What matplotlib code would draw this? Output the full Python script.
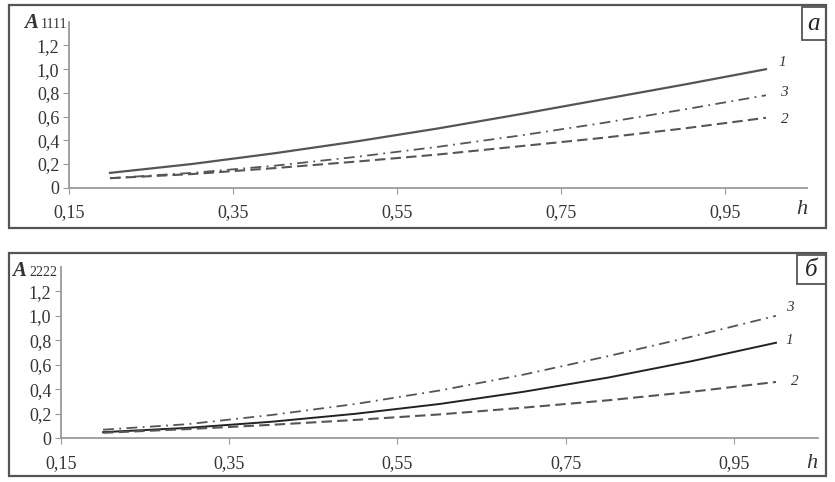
import matplotlib
matplotlib.use("Agg")
import matplotlib.pyplot as plt
from matplotlib.patches import Rectangle

# values
h = [0.2, 0.3, 0.4, 0.5, 0.6, 0.7, 0.8, 0.9, 1.0]

a_curve1 = [0.125, 0.20, 0.29, 0.39, 0.50, 0.62, 0.745, 0.87, 1.00]
a_curve2 = [0.08, 0.115, 0.165, 0.22, 0.28, 0.35, 0.42, 0.50, 0.59]
a_curve3 = [0.08, 0.125, 0.185, 0.26, 0.345, 0.44, 0.545, 0.66, 0.78]

b_curve1 = [0.05, 0.085, 0.135, 0.20, 0.28, 0.38, 0.495, 0.63, 0.78]
b_curve2 = [0.045, 0.075, 0.11, 0.15, 0.195, 0.25, 0.31, 0.38, 0.46]
b_curve3 = [0.07, 0.115, 0.19, 0.28, 0.39, 0.52, 0.67, 0.83, 1.00]

x_ticks = [0.15, 0.35, 0.55, 0.75, 0.95]
x_labels = ["0,15", "0,35", "0,55", "0,75", "0,95"]
y_ticks = [0, 0.2, 0.4, 0.6, 0.8, 1.0, 1.2]
y_labels = ["0", "0,2", "0,4", "0,6", "0,8", "1,0", "1,2"]

serif = "Liberation Serif"
W, H = 835, 482

fig = plt.figure(figsize=(8.35, 4.82), dpi=100)


def fx(px):
    return px / W


def fy(py):
    return 1 - py / H


def setup(ax):
    ax.set_xlim(0.15, 1.05)
    ax.set_ylim(0, 1.4)
    ax.set_xticks(x_ticks)
    ax.set_xticklabels(x_labels, fontfamily=serif, fontsize=13)
    ax.set_yticks(y_ticks)
    ax.set_yticklabels(y_labels, fontfamily=serif, fontsize=13)
    for s in ["top", "right"]:
        ax.spines[s].set_visible(False)
    for s in ["left", "bottom"]:
        ax.spines[s].set_color("#9a9a9a")
        ax.spines[s].set_linewidth(1.3)
    ax.tick_params(direction="out", length=4, color="#9a9a9a", labelcolor="#333333")
    ax.tick_params(axis="x", pad=8)
    ax.tick_params(axis="y", pad=3)
    ax.patch.set_alpha(0)


def frame(x0, y0, x1, y1, lw=1.6):
    fig.patches.append(Rectangle((fx(x0), fy(y1)), fx(x1) - fx(x0), fy(y0) - fy(y1),
                                 transform=fig.transFigure, fill=False,
                                 edgecolor="#555555", linewidth=lw))


# panel a
frame(9, 5, 826, 228)
ax1 = fig.add_axes([fx(69), fy(187.7), fx(807) - fx(69), fy(21.8) - fy(187.7)])
setup(ax1)
ax1.plot(h, a_curve1, color="#555555", lw=1.6, ls="-")
ax1.plot(h, a_curve2, color="#555555", lw=1.5, ls=(0, (5, 2.5)))
ax1.plot(h, a_curve3, color="#555555", lw=1.3, ls=(0, (6, 3, 1, 3)))
for lab, ys, dx, dy in [("1", a_curve1, 9, 4.5), ("3", a_curve3, 10, 2), ("2", a_curve2, 11, -1)]:
    ax1.annotate(lab, xy=(h[-1], ys[-1]), xytext=(dx, dy), textcoords="offset points",
                 fontfamily=serif, fontstyle="italic", fontsize=11, color="#333333",
                 va="center")

fig.text(fx(24), fy(28), "A", fontfamily=serif, fontstyle="italic", fontweight="bold",
         fontsize=15, color="#333333", va="baseline")
fig.text(fx(41), fy(28), "1111", fontfamily=serif, fontsize=10, color="#333333", va="baseline")
fig.text(fx(796), fy(209), "h", fontfamily=serif, fontstyle="italic", fontsize=16,
         color="#333333", va="center")
frame(802, 7, 826, 40, lw=1.3)
fig.text(fx(814), fy(24), "a", fontfamily=serif, fontstyle="italic", fontsize=18,
         color="#222222", ha="center", va="center")

# panel b
frame(9, 253, 826, 476)
ax2 = fig.add_axes([fx(61), fy(438.3), fx(818) - fx(61), fy(266.8) - fy(438.3)])
setup(ax2)
ax2.plot(h, b_curve1, color="#222222", lw=1.4, ls="-")
ax2.plot(h, b_curve2, color="#555555", lw=1.5, ls=(0, (5, 2.5)))
ax2.plot(h, b_curve3, color="#555555", lw=1.3, ls=(0, (6, 3, 1, 3)))
for lab, ys, dx, dy in [("3", b_curve3, 7, 6), ("1", b_curve1, 7, 1.5), ("2", b_curve2, 11, 0.5)]:
    ax2.annotate(lab, xy=(h[-1], ys[-1]), xytext=(dx, dy), textcoords="offset points",
                 fontfamily=serif, fontstyle="italic", fontsize=11, color="#333333",
                 va="center")

fig.text(fx(12), fy(276), "A", fontfamily=serif, fontstyle="italic", fontweight="bold",
         fontsize=15, color="#333333", va="baseline")
fig.text(fx(29), fy(276), "2222", fontfamily=serif, fontsize=10, color="#333333", va="baseline")
fig.text(fx(806), fy(463), "h", fontfamily=serif, fontstyle="italic", fontsize=16,
         color="#333333", va="center")
frame(797, 255, 826, 284, lw=1.3)
fig.text(fx(811.5), fy(270), "б", fontfamily=serif, fontstyle="italic", fontsize=18,
         color="#222222", ha="center", va="center")

fig.savefig("out.png", dpi=100)
